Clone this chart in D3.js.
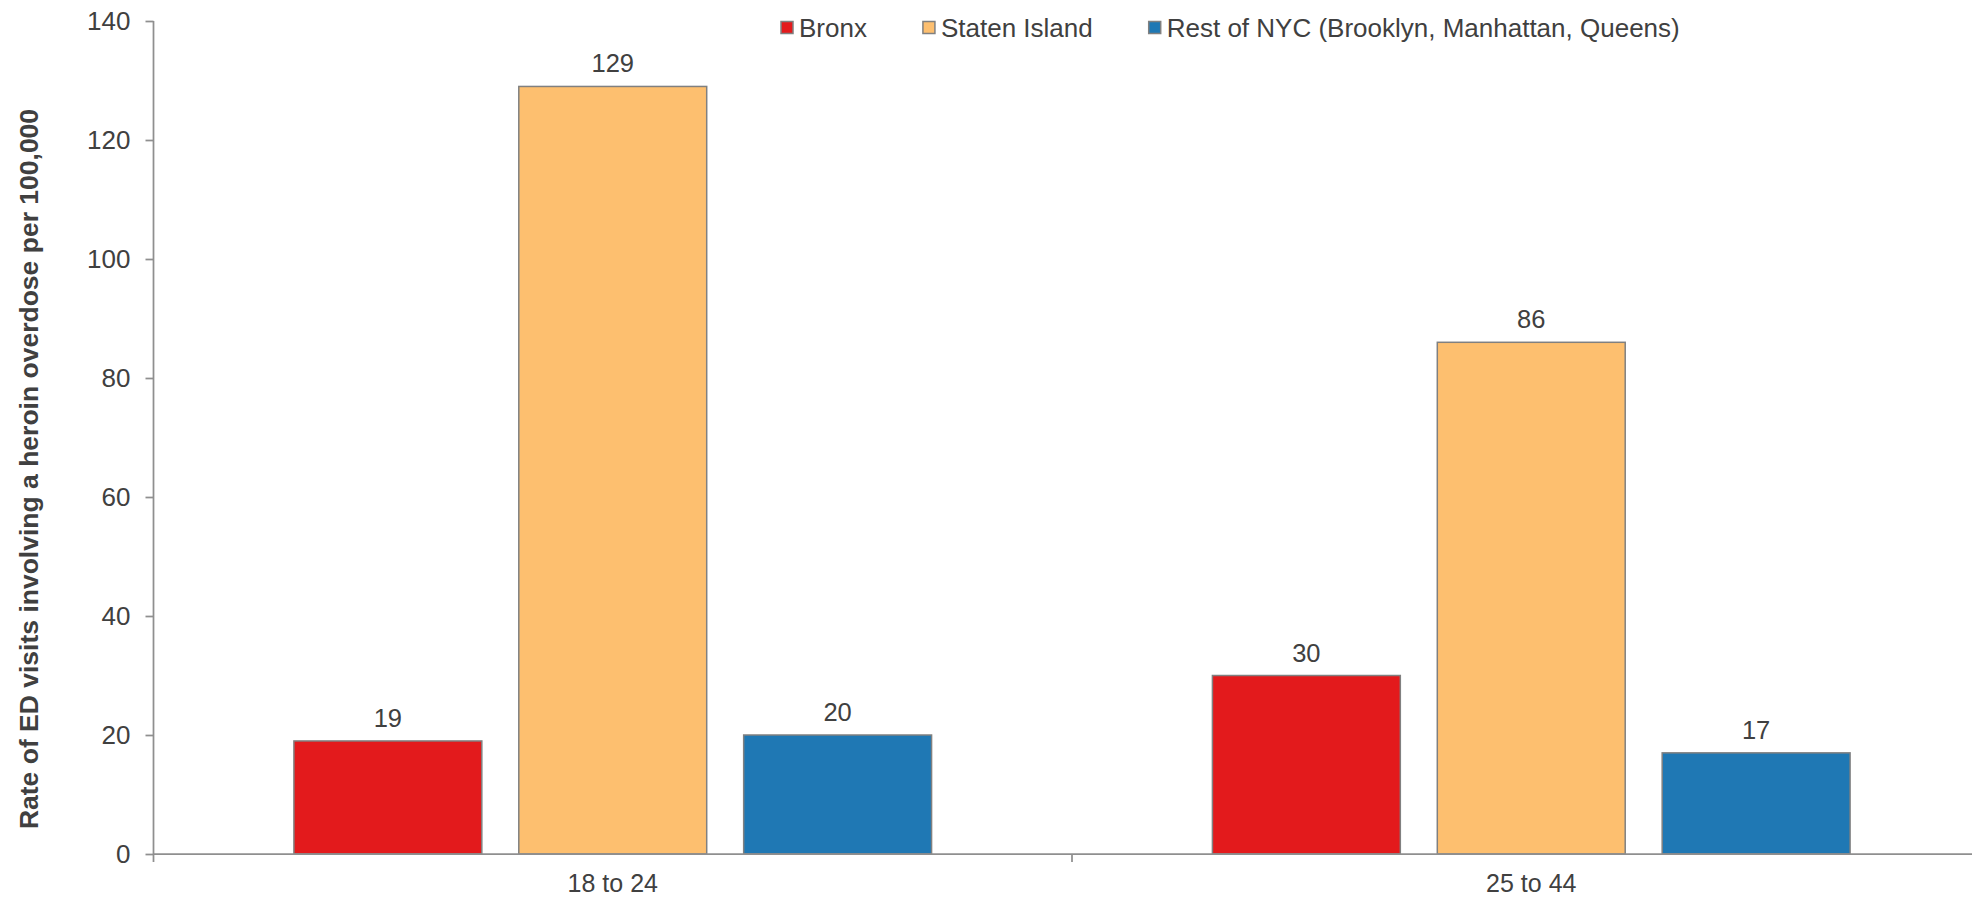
<!DOCTYPE html>
<html>
<head>
<meta charset="utf-8">
<script src="https://cdn.jsdelivr.net/npm/d3@7"></script>
<style>
  html, body { margin: 0; padding: 0; background: #ffffff; }
  svg { display: block; }
  text { font-family: "Liberation Sans", Arial, Helvetica, sans-serif; fill: #404040; }
</style>
</head>
<body>
<svg id="chart" width="1972" height="897"></svg>
<script>
// Age groups along the x axis
const ageGroups = ["18 to 24", "25 to 44"];
// Borough series
const seriesNames = ["Bronx", "Staten Island", "Rest of NYC (Brooklyn, Manhattan, Queens)"];
const seriesColors = ["#e31a1c", "#fdbf6f", "#1f78b4"];
// Rate per 100,000, one array per borough, in age-group order
const bronx = [19, 30];
const statenIsland = [129, 86];
const restOfNYC = [20, 17];
// Y axis ticks
const yTicks = [0, 20, 40, 60, 80, 100, 120, 140];
const yTitle = "Rate of ED visits involving a heroin overdose per 100,000";

const seriesValues = [bronx, statenIsland, restOfNYC];

const svg = d3.select("#chart");
const plot = { left: 153.5, right: 1990.5, top: 21, bottom: 854 };
const axisColor = "#8f8f8f";
const fontStack = "'Liberation Sans', Arial, sans-serif";

const y = d3.scaleLinear().domain([0, 140]).range([plot.bottom, plot.top]);
const xGroup = d3.scaleBand().domain(ageGroups).range([plot.left, plot.right]).padding(0);
const xSeries = d3.scaleBand().domain(seriesNames).range([0, xGroup.bandwidth()])
  .paddingInner(0.1644).paddingOuter(0.6244);

const rows = gi => seriesNames.map((s, si) => ({ s, si, v: seriesValues[si][gi] }));

// Bars
const groups = svg.append("g").selectAll("g")
  .data(ageGroups)
  .join("g")
  .attr("transform", d => `translate(${xGroup(d)},0)`);

groups.selectAll("rect")
  .data((g, gi) => rows(gi))
  .join("rect")
  .attr("x", d => xSeries(d.s))
  .attr("y", d => y(d.v))
  .attr("width", xSeries.bandwidth())
  .attr("height", d => y(0) - y(d.v))
  .attr("fill", d => seriesColors[d.si])
  .attr("stroke", "#808080")
  .attr("stroke-width", 1.5);

// Value labels above each bar
groups.selectAll("text.value")
  .data((g, gi) => rows(gi))
  .join("text")
  .attr("class", "value")
  .attr("x", d => xSeries(d.s) + xSeries.bandwidth() / 2)
  .attr("y", d => y(d.v) - 14)
  .attr("text-anchor", "middle")
  .style("font-size", "25.5px")
  .text(d => d3.format(".0f")(d.v));

// Y axis
const yAxis = svg.append("g")
  .attr("transform", `translate(${plot.left},0)`)
  .call(d3.axisLeft(y).tickValues(yTicks).tickSize(8).tickPadding(15).tickFormat(d3.format("d")));
yAxis.select(".domain").attr("stroke", axisColor).attr("stroke-width", 1.75)
  .attr("d", `M0,${plot.top}V${plot.bottom}`);
yAxis.selectAll(".tick line").attr("stroke", axisColor).attr("stroke-width", 1.75);
yAxis.selectAll(".tick text").style("font-size", "26px").attr("fill", "#404040")
  .style("font-family", fontStack);

// X axis: baseline, boundary ticks between age groups, centred labels
const xAxis = svg.append("g")
  .attr("transform", `translate(0,${plot.bottom})`)
  .call(d3.axisBottom(xGroup).tickSize(0).tickPadding(20));
xAxis.select(".domain").attr("stroke", axisColor).attr("stroke-width", 1.75)
  .attr("d", `M${plot.left},0H${plot.right}`);
xAxis.selectAll(".tick text").style("font-size", "25px").attr("fill", "#404040")
  .style("font-family", fontStack);

const boundaries = ageGroups.map(g => xGroup(g)).concat([plot.right]);
xAxis.selectAll("line.boundary")
  .data(boundaries)
  .join("line")
  .attr("class", "boundary")
  .attr("x1", d => d).attr("x2", d => d)
  .attr("y1", 0).attr("y2", 8)
  .attr("stroke", axisColor).attr("stroke-width", 1.75);

// Y axis title
svg.append("text")
  .attr("transform", `translate(38,469) rotate(-90)`)
  .attr("text-anchor", "middle")
  .style("font-size", "26.5px")
  .style("font-weight", "bold")
  .text(yTitle);

// Legend across the top
const legend = svg.append("g").attr("transform", "translate(781,0)");
let cursor = 0;
seriesNames.forEach((name, i) => {
  const item = legend.append("g").attr("transform", `translate(${cursor},0)`);
  item.append("rect")
    .attr("x", 0).attr("y", 21.5)
    .attr("width", 12).attr("height", 12)
    .attr("fill", seriesColors[i])
    .attr("stroke", "#808080").attr("stroke-width", 1.5);
  const t = item.append("text")
    .attr("x", 18).attr("y", 36.5)
    .style("font-size", "26px")
    .text(name);
  cursor += 18 + t.node().getComputedTextLength() + 56;
});
</script>
</body>
</html>
